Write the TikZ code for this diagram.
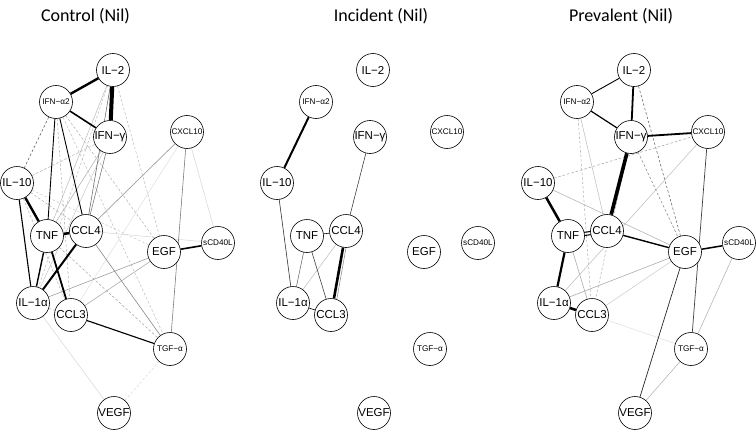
\documentclass[tikz,border=0pt]{standalone}
\usepackage{fontspec}
\setmainfont{Liberation Sans}
\newfontfamily\titlefont{Carlito}
\usetikzlibrary{backgrounds}
\begin{document}
\begin{tikzpicture}[x=1pt,y=-1pt,
  nd/.style={circle, draw, line width=0.6pt, fill=white, minimum size=33pt, inner sep=0pt},
  big/.style={font=\fontsize{11.5}{12}\selectfont},
  sml/.style={font=\fontsize{8.2}{9}\selectfont},
  ttl/.style={font=\titlefont\fontsize{18}{20}\selectfont, anchor=base},
  blk/.style={draw=black, line width=#1},
  gry/.style={draw=black!#1, line width=0.55pt},
  dsh/.style={draw=black!#1, line width=0.55pt, dash pattern=on 2.5pt off 2pt},
]
\useasboundingbox (0,0) rectangle (756,431);

\node[ttl] (t1) at (85.5,21) {Control (Nil)};
\node[ttl] (t2) at (381,21) {Incident (Nil)};
\node[ttl] (t3) at (621,21) {Prevalent (Nil)};

\foreach \p/\dx in {c/0,i/260,p/521}{
  \node[nd,big] (\p-IL2)    at ({113+\dx},70)  {IL−2};
  \node[nd,sml] (\p-IFNa2)  at ({56+\dx},102)  {IFN−α2};
  \node[nd,big] (\p-IFNg)   at ({110+\dx},137) {IFN−γ};
  \node[nd,sml] (\p-CXCL10) at ({187+\dx},132) {CXCL10};
  \node[nd,big] (\p-IL10)   at ({17+\dx},183)  {IL−10};
  \node[nd,big] (\p-TNF)    at ({47+\dx},236)  {TNF};
  \node[nd,big] (\p-CCL4)   at ({86+\dx},231)  {CCL4};
  \node[nd,big] (\p-EGF)    at ({164+\dx},252) {EGF};
  \node[nd,sml] (\p-sCD40L) at ({218+\dx},243) {sCD40L};
  \node[nd,big] (\p-IL1a)   at ({33+\dx},303)  {IL−1α};
  \node[nd,big] (\p-CCL3)   at ({71+\dx},315)  {CCL3};
  \node[nd,sml] (\p-TGFa)   at ({170+\dx},349) {TGF−α};
  \node[nd,big] (\p-VEGF)   at ({114+\dx},413) {VEGF};
}

\begin{pgfonlayer}{background}
% ---------- Control ----------
\foreach \a/\b/\c in {CXCL10/sCD40L/15, CXCL10/CCL3/12, IL1a/VEGF/15, CCL4/sCD40L/15,
  IFNg/IL1a/20, IL2/TNF/25, IFNg/TNF/30, CCL3/EGF/35, IL1a/EGF/40, CXCL10/CCL4/45,
  CCL4/TGFa/50, CXCL10/TGFa/55, IFNg/CCL4/55, IL2/CCL4/60}
  \draw[gry=\c] (c-\a) -- (c-\b);
\foreach \a/\b/\c in {VEGF/TGFa/15, IL10/EGF/20, IL2/EGF/25, IFNa2/TGFa/25, IL2/IL1a/25,
  IL10/IFNg/30, IFNa2/EGF/30, IL10/CCL4/30, IL10/CCL3/30, IL1a/TGFa/30, IFNa2/CCL3/30,
  TNF/TGFa/35, IFNa2/IL10/65}
  \draw[dsh=\c] (c-\a) -- (c-\b);
\foreach \a/\b/\w in {IL2/IFNa2/2.4, IL2/IFNg/4, IFNa2/IFNg/1.6, IFNa2/TNF/0.9,
  IFNa2/CCL4/0.9, IL10/TNF/2.4, IL10/IL1a/1.1, TNF/CCL4/2.5, TNF/IL1a/1.4,
  TNF/CCL3/1.8, CCL4/IL1a/2.0, EGF/sCD40L/1.6, CCL3/TGFa/1.1}
  \draw[blk=\w pt] (c-\a) -- (c-\b);

% ---------- Incident ----------
\draw[gry=25] (i-CCL4) -- (i-IL1a);
\draw[gry=60] (i-TNF) -- (i-IL1a);
\draw[gry=45] ([xshift=3pt]i-CCL4.center) -- ([xshift=3pt]i-CCL3.center);
\draw[draw=black!75, line width=0.6pt] (i-IFNg) -- (i-CCL4);
\draw[draw=black!75, line width=0.6pt] (i-TNF) -- (i-CCL3);
\draw[draw=black!80, line width=0.6pt] (i-IL10) -- (i-IL1a);
\draw[blk=0.6pt] (i-TNF) -- (i-CCL4);
\draw[blk=0.6pt] (i-IL1a) -- (i-CCL3);
\draw[blk=2.0pt] (i-IFNa2) -- (i-IL10);
\draw[blk=2.6pt] (i-CCL4) -- (i-CCL3);

% ---------- Prevalent ----------
\foreach \a/\b/\c in {CCL3/TGFa/12, CCL3/EGF/20, CXCL10/IL1a/25, IFNa2/CCL4/25,
  sCD40L/TGFa/30, TGFa/VEGF/30, IL10/EGF/30, IL1a/EGF/35, TNF/CCL3/35}
  \draw[gry=\c] (p-\a) -- (p-\b);
\foreach \a/\b/\c in {IFNa2/CCL3/30, IFNg/CCL3/30, IL10/CXCL10/35, IFNg/EGF/45, IL2/EGF/60}
  \draw[dsh=\c] (p-\a) -- (p-\b);
\draw[draw=black!75, line width=0.7pt] (p-CXCL10) -- (p-TGFa);
\draw[draw=black!85, line width=0.7pt] (p-EGF) -- (p-VEGF);
\foreach \a/\b/\w in {IL2/IFNa2/0.9, IL2/IFNg/1.8, IFNa2/IFNg/1.2, IFNg/CXCL10/1.8,
  IFNg/CCL4/3.6, IL10/TNF/2.5, TNF/IL1a/2.2, IL1a/CCL3/2.6, CCL4/EGF/1.4, EGF/sCD40L/1.5}
  \draw[blk=\w pt] (p-\a) -- (p-\b);
\draw[blk=1.1pt] ([yshift=-1.6pt]p-TNF.center) -- ([yshift=-1.6pt]p-CCL4.center);
\draw[blk=1.1pt] ([yshift=1.6pt]p-TNF.center) -- ([yshift=1.6pt]p-CCL4.center);
\end{pgfonlayer}
\end{tikzpicture}
\end{document}
